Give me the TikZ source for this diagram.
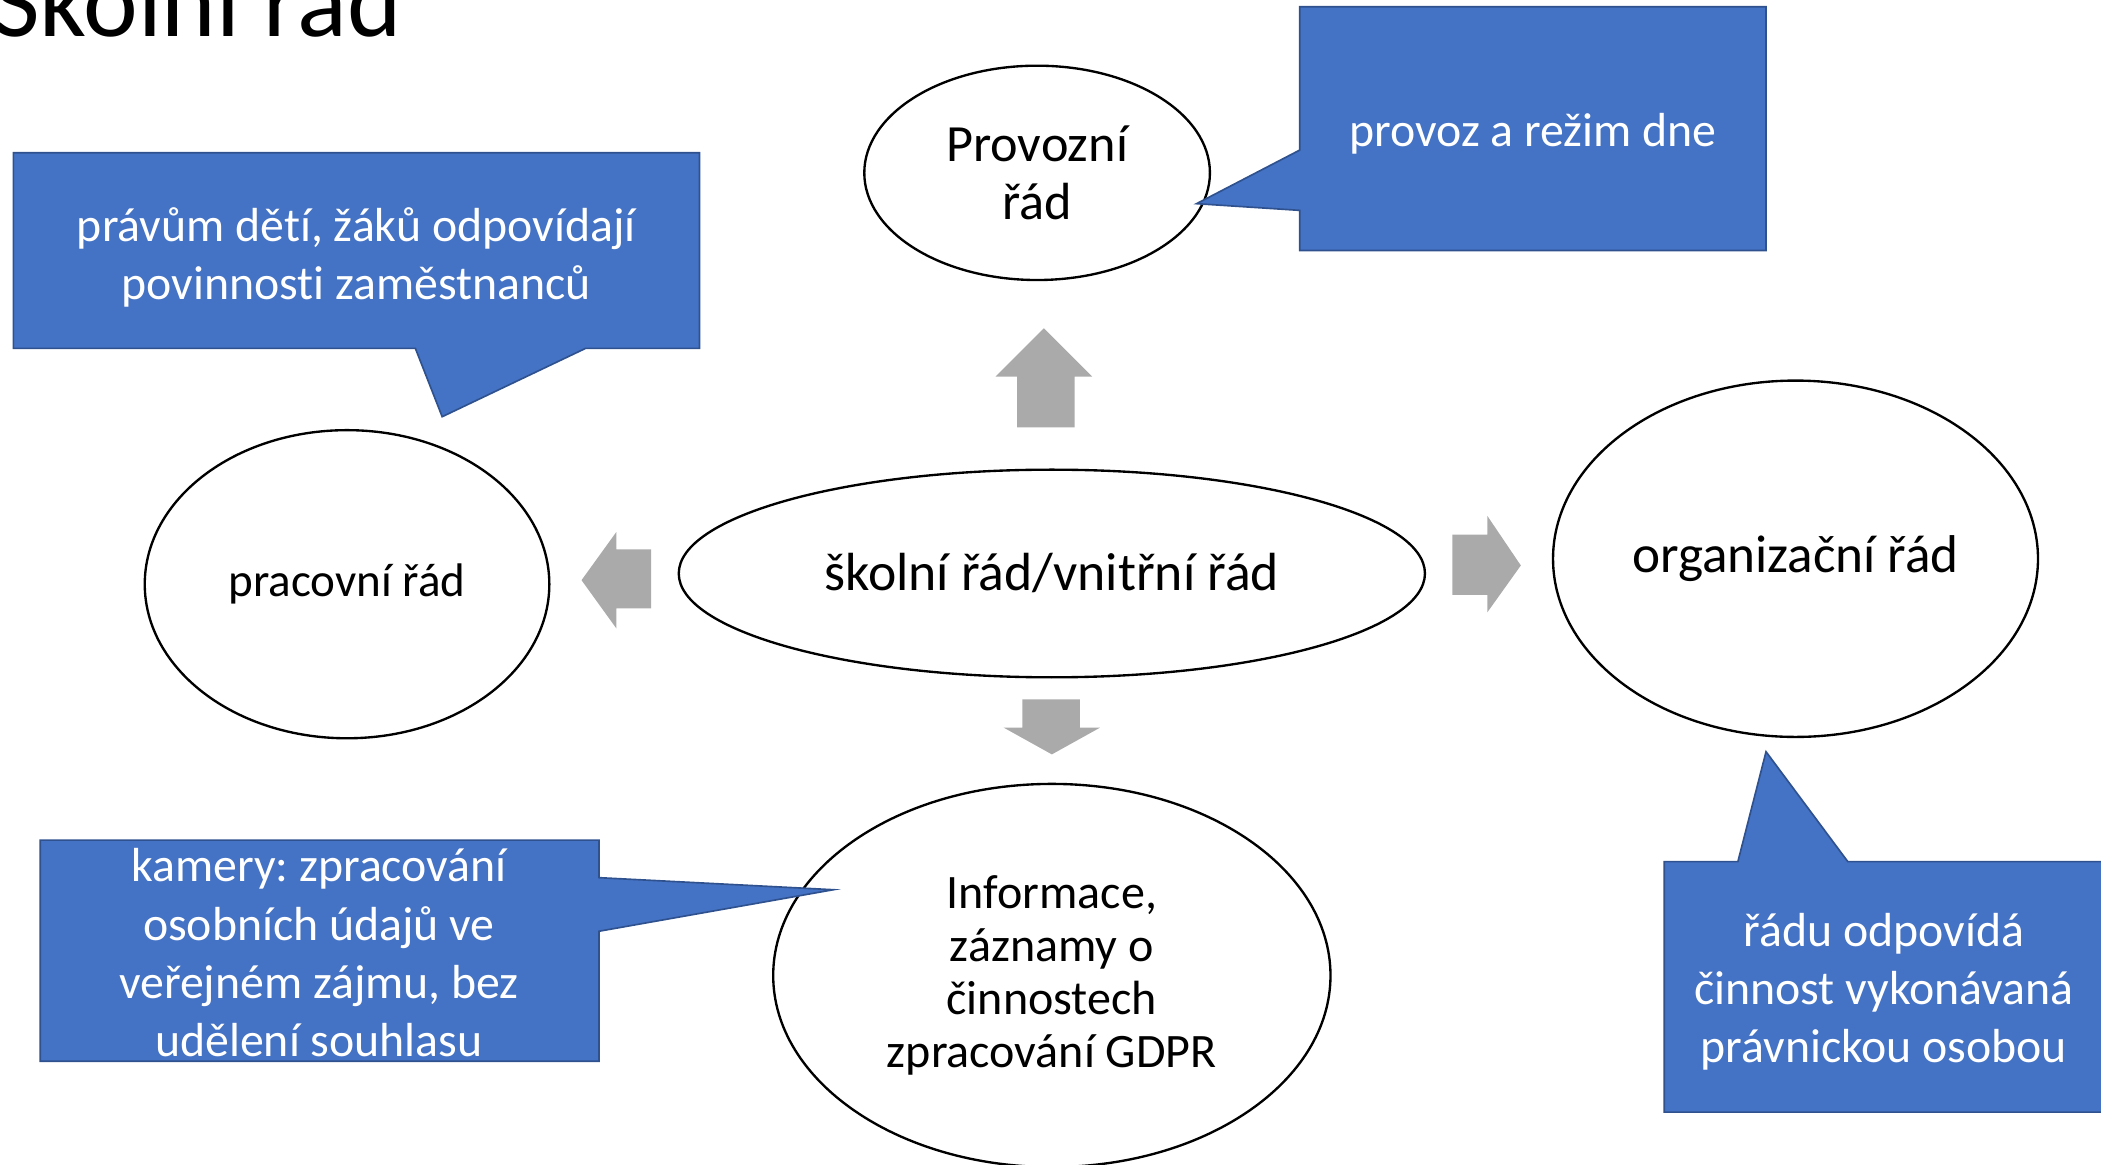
\documentclass[tikz,border=0pt]{standalone}
\usepackage{fontspec}
\setmainfont{Carlito}[Ligatures=NoCommon]
\usetikzlibrary{shapes.geometric}
\definecolor{blaufill}{HTML}{4472C4}
\definecolor{blaurand}{HTML}{2F528F}
\definecolor{pfeilgrau}{HTML}{AAAAAA}
\frenchspacing

\begin{document}
\begin{tikzpicture}[
    x=0.02cm, y=-0.02cm,
    kreis/.style={ellipse, draw, line width=1pt, inner sep=0pt, align=center, font=\fontsize{22.2}{25}\selectfont},
    blase/.style={fill=blaufill, draw=blaurand, line width=0.7pt},
    blasentext/.style={text=white, align=center, inner sep=0pt, font=\fontsize{20.3}{24.7}\selectfont},
    pfeil/.style={fill=pfeilgrau}
]
    \useasboundingbox (0,0) rectangle (1568,869);
    \clip (0,0) rectangle (1568,869);

    % Titel
    \node[anchor=base west, inner sep=0pt, font=\fontsize{44}{50}\selectfont] (titel) at (-6,27) {Školní řád};

    % Ellipsen
    \node[kreis, minimum width=5.16cm, minimum height=3.2cm] (provozni) at (774,129) {Provozní\\řád};
    \node[kreis, minimum width=11.14cm, minimum height=3.1cm, font=\fontsize{22.8}{25}\selectfont] (skolni) at (785,428) {školní řád/vnitřní řád};
    \node[kreis, minimum width=6.04cm, minimum height=4.6cm, font=\fontsize{20}{25}\selectfont] (pracovni) at (259,436) {pracovní řád};
    \node[kreis, minimum width=7.24cm, minimum height=5.32cm, font=\fontsize{22.6}{25}\selectfont] (organizacni) at (1340,417) {organizační řád};
    \node[kreis, minimum width=8.32cm, minimum height=5.72cm, font=\fontsize{20.4}{22.4}\selectfont] (informace) at (785,728) {Informace,\\záznamy o\\činnostech\\zpracování GDPR};

    % Pfeile
    \fill[pfeil] (759,319) -- (759,281) -- (743,281) -- (779,245) -- (815,281) -- (802,281) -- (802,319) -- cycle;
    \fill[pfeil] (486,410) -- (460,410) -- (460,397) -- (434,433) -- (460,469) -- (460,454) -- (486,454) -- cycle;
    \fill[pfeil] (1084,399) -- (1110,399) -- (1110,385) -- (1135,422) -- (1110,457) -- (1110,444) -- (1084,444) -- cycle;
    \fill[pfeil] (763,522) -- (806,522) -- (806,543) -- (821,543) -- (785,563) -- (749,543) -- (763,543) -- cycle;

    % Sprechblasen
    \draw[blase] (10,114) -- (522,114) -- (522,260) -- (437,260) -- (330,311) -- (310,260) -- (10,260) -- cycle;
    \node[blasentext] (prava) at (266,192) {právům dětí, žáků odpovídají\\povinnosti zaměstnanců};

    \draw[blase] (970,5) -- (1318,5) -- (1318,187) -- (970,187) -- (970,157) -- (893,152) -- (970,112) -- cycle;
    \node[blasentext] (provoz) at (1144,100) {provoz a režim dne};

    \draw[blase] (30,627) -- (447,627) -- (447,655) -- (622,664) -- (447,695) -- (447,792) -- (30,792) -- cycle;
    \node[blasentext] (kamery) at (238,711) {kamery: zpracování\\osobních údajů ve\\veřejném zájmu, bez\\udělení souhlasu};

    \draw[blase] (1242,643) -- (1297,643) -- (1318,561) -- (1379,643) -- (1580,643) -- (1580,830) -- (1242,830) -- cycle;
    \node[blasentext] (cinnost) at (1406,740) {řádu odpovídá\\činnost vykonávaná\\právnickou osobou};
\end{tikzpicture}
\end{document}
